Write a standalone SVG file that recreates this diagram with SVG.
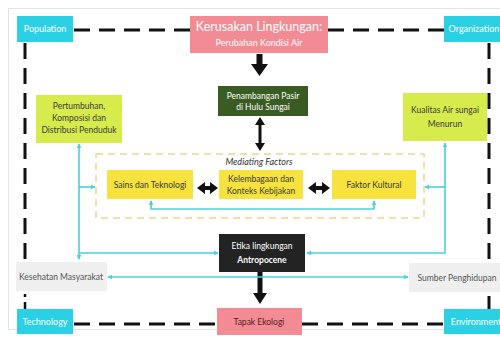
<svg xmlns="http://www.w3.org/2000/svg" width="500" height="340" viewBox="0 0 500 340">
<defs>
<style>
.t{font-family:Lato,"Open Sans","Liberation Sans",sans-serif;font-size:9px;fill:#3a3a3a;text-anchor:middle}
.w{fill:#ffffff}
.cy{fill:#2ad0e4}
.dash{stroke:#111;stroke-width:3;stroke-dasharray:16 9;fill:none}
.cl{stroke:#4ccfdf;stroke-width:1.6;fill:none}
.blk{fill:#111}
</style>
<marker id="ca" viewBox="0 0 8 8" refX="7" refY="4" markerWidth="5" markerHeight="5" orient="auto-start-reverse" markerUnits="userSpaceOnUse">
<path d="M0,0 L8,4 L0,8 Z" fill="#4ccfdf"/>
</marker>
</defs>
<rect width="500" height="340" fill="#ffffff"/>
<rect x="8.5" y="8.5" width="500" height="321" fill="none" stroke="#e4e4e4" stroke-width="1"/>

<g id="connectors">
<line class="dash" x1="74" y1="30" x2="190" y2="30"/>
<line class="dash" x1="328" y1="30" x2="444" y2="30"/>
<line class="dash" x1="74" y1="324" x2="217" y2="324"/>
<line class="dash" x1="302" y1="324" x2="444" y2="324"/>
<line class="dash" x1="25" y1="43" x2="25" y2="262"/>
<line x1="25" y1="294" x2="25" y2="297" stroke="#111" stroke-width="2.5"/>
<line x1="25" y1="302" x2="25" y2="309" stroke="#111" stroke-width="2.5"/>
<line class="dash" x1="489" y1="43" x2="489" y2="262"/>
<line x1="489" y1="296" x2="489" y2="309" stroke="#111" stroke-width="3"/>
<rect x="96" y="154" width="328" height="64" fill="none" stroke="#f1d48e" stroke-width="1.5" stroke-dasharray="7 5"/>
<path class="blk" d="M256.5,54 H262.5 V64 H268 L259.5,76 L251,64 H256.5 Z"/>
<path class="blk" d="M260,117 L265,125 H261.5 V143 H265 L260,151 L255,143 H258.5 V125 H255 Z"/>
<path class="blk" d="M197,188 L205,182 V186 H210 V182 L218,188 L210,194 V190 H205 V194 Z"/>
<path class="blk" d="M308,188 L316,182 V186 H322 V182 L330,188 L322,194 V190 H316 V194 Z"/>
<path class="blk" d="M257.5,272 H262.5 V293 H267 L260,304 L253,293 H257.5 Z"/>
<polyline class="cl" points="151,201 151,209 374,209 374,201" marker-start="url(#ca)" marker-end="url(#ca)"/>
<polyline class="cl" points="79,144 79,259" marker-start="url(#ca)" marker-end="url(#ca)"/>
<polyline class="cl" points="79,187 95,187" marker-end="url(#ca)"/>
<polyline class="cl" points="79,253 218,253" marker-end="url(#ca)"/>
<polyline class="cl" points="445,143 445,253 307,253" marker-start="url(#ca)" marker-end="url(#ca)"/>
<polyline class="cl" points="445,187 425,187" marker-end="url(#ca)"/>
<polyline class="cl" points="108,277 408,277" marker-start="url(#ca)" marker-end="url(#ca)"/>
</g>

<g id="population">
<rect class="cy" x="17" y="16" width="56" height="26"/>
<text class="t w" x="45" y="32">Population</text>
</g>
<g id="organization">
<rect class="cy" x="444" y="16" width="60" height="26"/>
<text class="t w" x="474" y="32">Organization</text>
</g>
<g id="technology">
<rect class="cy" x="17" y="309" width="56" height="25"/>
<text class="t w" x="45" y="325">Technology</text>
</g>
<g id="environment">
<rect class="cy" x="444" y="309" width="60" height="25"/>
<text class="t w" x="476" y="325">Environment</text>
</g>
<g id="kerusakan">
<rect x="190" y="16" width="138" height="37" fill="#f38b95"/>
<text class="t w" x="259" y="31" style="font-size:12.5px">Kerusakan Lingkungan:</text>
<text class="t w" x="259" y="46">Perubahan Kondisi Air</text>
</g>
<g id="penambangan">
<rect x="218" y="86" width="90" height="30" fill="#3a5b22"/>
<text class="t w" x="263" y="99" style="font-size:8.5px">Penambangan  Pasir</text>
<text class="t w" x="263" y="110" style="font-size:8.5px">di Hulu Sungai</text>
</g>
<g id="pertumbuhan">
<rect x="36" y="95" width="86" height="48" fill="#d8eb4c"/>
<text class="t" x="79" y="109" style="font-size:8.5px">Pertumbuhan,</text>
<text class="t" x="79" y="121" style="font-size:8.5px">Komposisi dan</text>
<text class="t" x="79" y="133" style="font-size:8.5px">Distribusi Penduduk</text>
</g>
<g id="kualitas">
<rect x="403" y="93" width="84" height="48" fill="#d8eb4c"/>
<text class="t" x="445" y="113" style="font-size:8.5px">Kualitas Air sungai</text>
<text class="t" x="445" y="127" style="font-size:8.5px">Menurun</text>
</g>
<g id="mediating">
<text class="t" x="259" y="165" style="font-style:italic;fill:#333">Mediating Factors</text>
</g>
<g id="sains">
<rect x="107" y="170" width="86" height="29" fill="#f7e23e"/>
<text class="t" x="150" y="188" style="font-size:8.5px">Sains dan Teknologi</text>
</g>
<g id="kelembagaan">
<rect x="219" y="170" width="84" height="29" fill="#f7e23e"/>
<text class="t" x="261" y="182" style="font-size:8.5px">Kelembagaan dan</text>
<text class="t" x="261" y="194" style="font-size:8.5px">Konteks Kebijakan</text>
</g>
<g id="faktor">
<rect x="332" y="170" width="84" height="29" fill="#f7e23e"/>
<text class="t" x="374" y="188" style="font-size:8.5px">Faktor Kultural</text>
</g>
<g id="etika">
<rect x="219" y="234" width="86" height="38" fill="#232323"/>
<text class="t w" x="262" y="249" style="font-size:8.5px">Etika lingkungan</text>
<text class="t w" x="262" y="263" style="font-size:8.5px;font-weight:bold">Antropocene</text>
</g>
<g id="kesehatan">
<rect x="16" y="262" width="91" height="29" fill="#efefef"/>
<text class="t" x="61" y="280" style="font-size:8.5px;fill:#555">Kesehatan Masyarakat</text>
</g>
<g id="sumber">
<rect x="409" y="263" width="95" height="29" fill="#efefef"/>
<text class="t" x="457" y="281" style="font-size:8.5px;fill:#555">Sumber Penghidupan</text>
</g>
<g id="tapak">
<rect x="217" y="308" width="85" height="27" fill="#f38b95"/>
<text class="t" x="259" y="325" style="font-size:8.5px;fill:#5b1c22">Tapak Ekologi</text>
</g>
</svg>
